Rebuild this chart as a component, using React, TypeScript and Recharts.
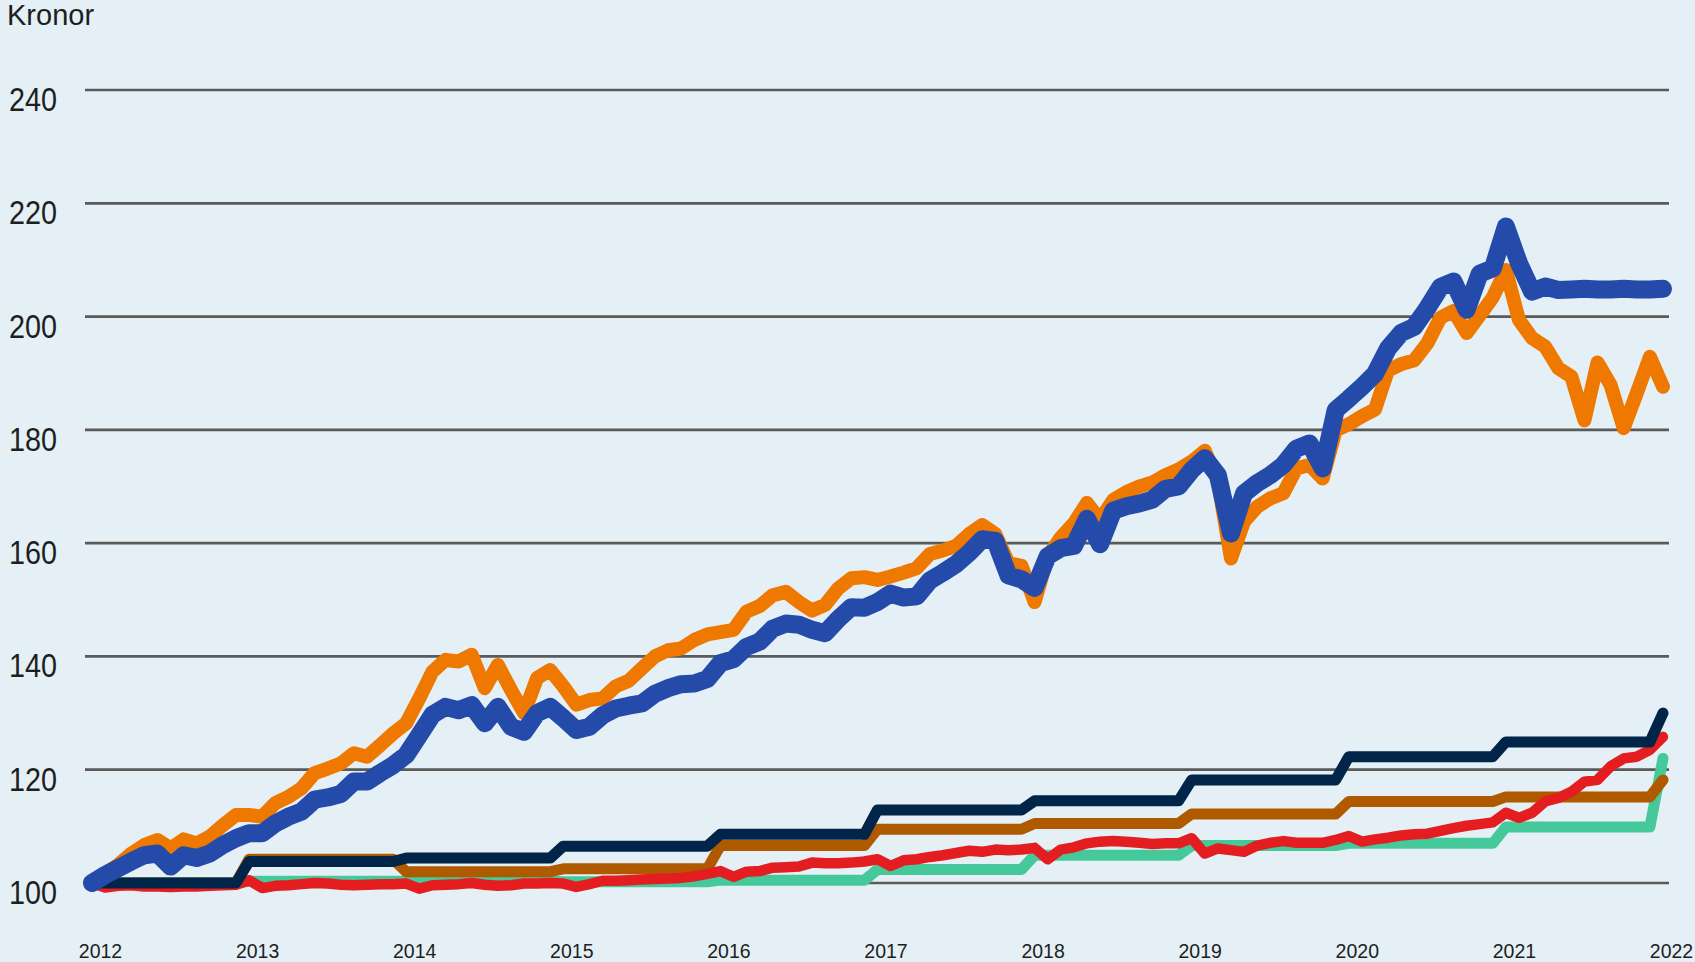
import React from 'react';
import { LineChart, Line, XAxis, YAxis, CartesianGrid } from 'recharts';

// Monthly index 0 = Jan 2012 ... 120 = Jan 2022
const yearLabels = ['2012', '2013', '2014', '2015', '2016', '2017', '2018', '2019', '2020', '2021', '2022'];
const xTicks = [0, 12, 24, 36, 48, 60, 72, 84, 96, 108, 120];
const yTicks = [100, 120, 140, 160, 180, 200, 220, 240];
const yDomain: [number, number] = [95, 245];

const blueSeries = [
  100.0, 101.4, 102.6, 103.8, 104.9, 105.2, 102.9, 104.9, 104.4, 105.2, 106.7, 107.9,
  108.8, 108.8, 110.5, 111.7, 112.6, 114.7, 115.1, 115.7, 117.9, 117.9, 119.4, 120.8,
  122.6, 126.1, 129.7, 131.1, 130.5, 131.4, 128.2, 131.1, 127.6, 126.7, 130.0, 131.1,
  129.1, 127.0, 127.6, 129.6, 130.8, 131.3, 131.7, 133.4, 134.4, 135.1, 135.2, 136.0,
  138.8, 139.5, 141.7, 142.6, 144.9, 145.8, 145.6, 144.7, 144.1, 146.6, 148.7, 148.6,
  149.6, 151.1, 150.4, 150.6, 153.4, 154.8, 156.3, 158.3, 160.7, 160.4, 154.3, 153.6,
  152.1, 157.7, 159.1, 159.5, 164.3, 159.8, 165.7, 166.5, 167.0, 167.7, 169.6, 170.0,
  172.9, 175.0, 172.0, 161.7, 168.8, 170.6, 172.0, 173.8, 176.7, 177.6, 173.2, 183.5,
  185.5, 187.6, 189.9, 194.4, 197.1, 198.2, 201.5, 205.2, 206.2, 201.2, 207.6, 208.5,
  215.9, 209.4, 204.4, 205.3, 204.7, 204.8, 204.9, 204.8, 204.8, 204.9, 204.8, 204.8,
  204.9,
];

const orangeSeries = [
  100.0, 101.7, 103.2, 105.2, 106.7, 107.6, 106.1, 107.7, 107.0, 108.2, 110.2, 112.0,
  112.0, 111.7, 114.1, 115.2, 116.7, 119.4, 120.2, 121.1, 122.9, 122.3, 124.3, 126.4,
  128.2, 132.6, 137.3, 139.4, 139.1, 140.3, 134.4, 138.5, 134.1, 130.0, 136.2, 137.6,
  134.7, 131.5, 132.3, 132.6, 134.7, 135.7, 137.9, 140.0, 141.1, 141.4, 142.9, 143.9,
  144.3, 144.7, 147.9, 148.9, 150.8, 151.4, 149.6, 148.1, 149.1, 152.0, 153.8, 154.0,
  153.5, 154.1, 154.8, 155.6, 158.1, 158.7, 159.5, 161.6, 163.2, 161.6, 156.5, 156.0,
  149.6, 157.6, 161.0, 163.5, 167.1, 164.1, 167.6, 169.0, 170.0, 170.7, 172.0, 173.0,
  174.4, 176.3, 171.0, 157.3, 163.8, 166.4, 167.9, 168.8, 173.2, 173.8, 171.4, 179.9,
  181.0, 182.4, 183.6, 190.5, 191.6, 192.3, 195.3, 199.8, 201.0, 197.1, 200.2, 203.4,
  208.2, 199.4, 196.2, 194.7, 190.9, 189.4, 181.7, 191.9, 187.9, 180.3, 186.5, 192.9,
  187.6,
];

const navySeries = [
  100.0, 100.0, 100.0, 100.0, 100.0, 100.0, 100.0, 100.0, 100.0, 100.0, 100.0, 100.0,
  103.8, 103.8, 103.8, 103.8, 103.8, 103.8, 103.8, 103.8, 103.8, 103.8, 103.8, 103.8,
  104.4, 104.4, 104.4, 104.4, 104.4, 104.4, 104.4, 104.4, 104.4, 104.4, 104.4, 104.4,
  106.5, 106.5, 106.5, 106.5, 106.5, 106.5, 106.5, 106.5, 106.5, 106.5, 106.5, 106.5,
  108.6, 108.6, 108.6, 108.6, 108.6, 108.6, 108.6, 108.6, 108.6, 108.6, 108.6, 108.6,
  112.9, 112.9, 112.9, 112.9, 112.9, 112.9, 112.9, 112.9, 112.9, 112.9, 112.9, 112.9,
  114.5, 114.5, 114.5, 114.5, 114.5, 114.5, 114.5, 114.5, 114.5, 114.5, 114.5, 114.5,
  118.2, 118.2, 118.2, 118.2, 118.2, 118.2, 118.2, 118.2, 118.2, 118.2, 118.2, 118.2,
  122.3, 122.3, 122.3, 122.3, 122.3, 122.3, 122.3, 122.3, 122.3, 122.3, 122.3, 122.3,
  124.9, 124.9, 124.9, 124.9, 124.9, 124.9, 124.9, 124.9, 124.9, 124.9, 124.9, 124.9,
  130.0,
];

const brownSeries = [
  100.0, 100.0, 100.0, 100.0, 100.0, 100.0, 100.0, 100.0, 100.0, 100.0, 100.0, 100.0,
  104.2, 104.2, 104.2, 104.2, 104.2, 104.2, 104.2, 104.2, 104.2, 104.2, 104.2, 104.2,
  102.0, 102.0, 102.0, 102.0, 102.0, 102.0, 102.0, 102.0, 102.0, 102.0, 102.0, 102.0,
  102.5, 102.5, 102.5, 102.5, 102.5, 102.5, 102.5, 102.5, 102.5, 102.5, 102.5, 102.5,
  106.6, 106.6, 106.6, 106.6, 106.6, 106.6, 106.6, 106.6, 106.6, 106.6, 106.6, 106.6,
  109.5, 109.5, 109.5, 109.5, 109.5, 109.5, 109.5, 109.5, 109.5, 109.5, 109.5, 109.5,
  110.5, 110.5, 110.5, 110.5, 110.5, 110.5, 110.5, 110.5, 110.5, 110.5, 110.5, 110.5,
  112.2, 112.2, 112.2, 112.2, 112.2, 112.2, 112.2, 112.2, 112.2, 112.2, 112.2, 112.2,
  114.4, 114.4, 114.4, 114.4, 114.4, 114.4, 114.4, 114.4, 114.4, 114.4, 114.4, 114.4,
  115.2, 115.2, 115.2, 115.2, 115.2, 115.2, 115.2, 115.2, 115.2, 115.2, 115.2, 115.2,
  118.2,
];

const greenSeries = [
  100.0, 100.0, 100.0, 100.0, 100.0, 100.0, 100.0, 100.0, 100.0, 100.0, 100.0, 100.0,
  100.3, 100.3, 100.3, 100.3, 100.3, 100.3, 100.3, 100.3, 100.3, 100.3, 100.3, 100.3,
  100.3, 100.3, 100.3, 100.3, 100.3, 100.3, 100.3, 100.3, 100.3, 100.3, 100.3, 100.3,
  100.2, 100.2, 100.2, 100.2, 100.2, 100.2, 100.2, 100.2, 100.2, 100.2, 100.2, 100.2,
  100.5, 100.5, 100.5, 100.5, 100.5, 100.5, 100.5, 100.5, 100.5, 100.5, 100.5, 100.5,
  102.4, 102.4, 102.4, 102.4, 102.4, 102.4, 102.4, 102.4, 102.4, 102.4, 102.4, 102.4,
  104.9, 104.9, 104.9, 104.9, 104.9, 104.9, 104.9, 104.9, 104.9, 104.9, 104.9, 104.9,
  106.6, 106.6, 106.6, 106.6, 106.6, 106.6, 106.6, 106.6, 106.6, 106.6, 106.6, 106.6,
  107.0, 107.0, 107.0, 107.0, 107.0, 107.0, 107.0, 107.0, 107.0, 107.0, 107.0, 107.0,
  109.9, 109.9, 109.9, 109.9, 109.9, 109.9, 109.9, 109.9, 109.9, 109.9, 109.9, 109.9,
  122.0,
];

const redSeries = [
  100.0, 99.2, 99.5, 99.6, 99.4, 99.4, 99.3, 99.4, 99.4, 99.5, 99.6, 99.7,
  100.5, 99.1, 99.5, 99.6, 99.8, 100.0, 99.9, 99.7, 99.6, 99.7, 99.8, 99.8,
  99.9, 99.0, 99.6, 99.7, 99.8, 100.0, 99.7, 99.5, 99.6, 99.9, 99.9, 100.0,
  99.9, 99.3, 99.8, 100.4, 100.4, 100.5, 100.6, 100.7, 100.8, 100.9, 101.2, 101.6,
  102.1, 101.1, 102.0, 102.1, 102.7, 102.8, 102.9, 103.6, 103.5, 103.5, 103.6, 103.8,
  104.2, 103.0, 104.0, 104.2, 104.6, 104.9, 105.3, 105.7, 105.5, 105.9, 105.8, 105.9,
  106.2, 104.2, 105.9, 106.3, 107.0, 107.3, 107.4, 107.3, 107.1, 106.9, 107.0, 107.0,
  107.9, 105.2, 106.1, 105.8, 105.5, 106.6, 107.1, 107.4, 107.1, 107.1, 107.1, 107.6,
  108.3, 107.3, 107.7, 108.0, 108.4, 108.6, 108.7, 109.2, 109.7, 110.1, 110.4, 110.7,
  112.4, 111.5, 112.4, 114.4, 115.0, 116.1, 117.9, 118.2, 120.6, 122.0, 122.3, 123.5,
  125.8,
];

const data = blueSeries.map((v, i) => ({
  m: i,
  blue: v,
  orange: orangeSeries[i],
  navy: navySeries[i],
  brown: brownSeries[i],
  red: redSeries[i],
  green: greenSeries[i],
}));

const FONT = "'Liberation Sans', Arial, sans-serif";

const XTick = (props: any) => {
  const { x, payload } = props;
  const idx = xTicks.indexOf(payload.value);
  return (
    <text x={x + 8.5} y={958} textAnchor="middle" fontFamily={FONT} fontSize={19.5} fill="#1e1e1e">
      {yearLabels[idx]}
    </text>
  );
};

const YTick = (props: any) => {
  const { y, payload } = props;
  const label = String(payload.value);
  return (
    <text
      x={9}
      y={y + 21}
      textAnchor="start"
      fontFamily={FONT}
      fontSize={33}
      fill="#1e1e1e"
      textLength={label.length * 16}
      lengthAdjust="spacingAndGlyphs"
    >
      {label}
    </text>
  );
};

const gridGenerator = (args: any) => {
  const { yAxis, offset } = args || {};
  if (yAxis && typeof yAxis.scale === 'function') {
    return yTicks.map((t) => yAxis.scale(t));
  }
  return yTicks.map((t) => offset.top + ((yDomain[1] - t) / (yDomain[1] - yDomain[0])) * offset.height);
};

const lineCommon = {
  type: 'linear' as const,
  dot: false,
  activeDot: false,
  isAnimationActive: false,
  strokeLinecap: 'round' as const,
  strokeLinejoin: 'round' as const,
};

export default function App() {
  return (
    <div
      style={{
        position: 'absolute',
        left: 0,
        top: 0,
        width: 1695,
        height: 962,
        background: '#E4F0F5',
        overflow: 'hidden',
      }}
    >
      <LineChart
        width={1695}
        height={962}
        data={data}
        margin={{ top: 61.68, right: 26, bottom: 20.68, left: 0 }}
      >
        <CartesianGrid
          vertical={false}
          stroke="#5a5a5a"
          strokeWidth={2.7}
          horizontalCoordinatesGenerator={gridGenerator}
        />
        <XAxis
          dataKey="m"
          type="number"
          domain={[0, 120]}
          ticks={xTicks}
          interval={0}
          height={30}
          padding={{ left: 7, right: 6 }}
          axisLine={false}
          tickLine={false}
          tick={<XTick />}
        />
        <YAxis
          type="number"
          domain={yDomain}
          ticks={yTicks}
          interval={0}
          width={85}
          axisLine={false}
          tickLine={false}
          tick={<YTick />}
        />
        <Line {...lineCommon} dataKey="green" stroke="#45C99B" strokeWidth={11} />
        <Line {...lineCommon} dataKey="brown" stroke="#B05A00" strokeWidth={11} />
        <Line {...lineCommon} dataKey="red" stroke="#E41E20" strokeWidth={10.5} />
        <Line {...lineCommon} dataKey="navy" stroke="#002548" strokeWidth={11} />
        <Line {...lineCommon} dataKey="orange" stroke="#EF7800" strokeWidth={14} />
        <Line {...lineCommon} dataKey="blue" stroke="#244BAA" strokeWidth={18} />
      </LineChart>
      <svg
        width={300}
        height={45}
        style={{ position: 'absolute', left: 0, top: 0 }}
      >
        <text x={7} y={25} fontFamily={FONT} fontSize={29} fill="#1e1e1e">
          Kronor
        </text>
      </svg>
    </div>
  );
}
